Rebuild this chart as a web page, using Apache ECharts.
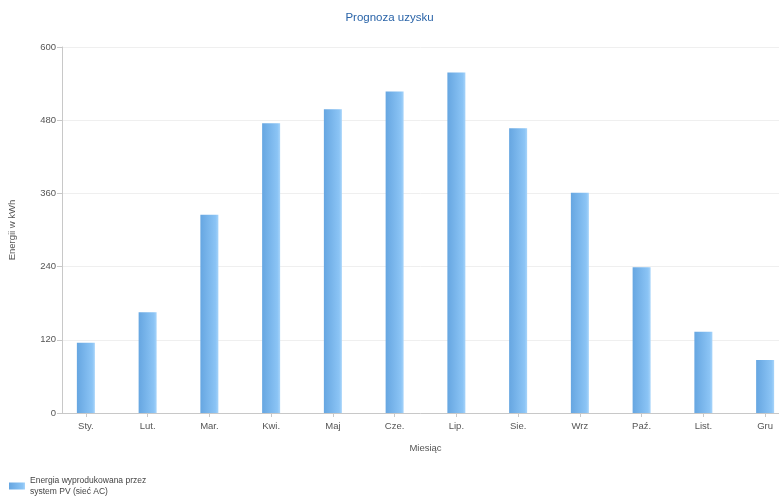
<!DOCTYPE html>
<html>
<head>
<meta charset="utf-8">
<style>
  html, body { margin: 0; padding: 0; background: #fff; }
  #chart { width: 779px; height: 499px; }
</style>
<script src="https://cdn.jsdelivr.net/npm/echarts@6/dist/echarts.min.js"></script>
</head>
<body>
<div id="chart"></div>
<script>
// Monthly energy yield forecast of the PV system
const months = ['Sty.', 'Lut.', 'Mar.', 'Kwi.', 'Maj', 'Cze.', 'Lip.', 'Sie.', 'Wrz', 'Paź.', 'List.', 'Gru'];
const energyKWh = [115, 165, 325, 475, 498, 527, 558, 467, 361, 239, 133, 87];
const yTicks = [0, 120, 240, 360, 480, 600];

const seriesName = 'Energia wyprodukowana przez\nsystem PV (sieć AC)';
const textFont = 'Liberation Sans';
const labelColor = '#555';
const axisColor = '#c8c8c8';

const chart = echarts.init(document.getElementById('chart'));

const yMin = yTicks[0];
const yMax = yTicks[yTicks.length - 1];
const yStep = yTicks[1] - yTicks[0];

chart.setOption({
  backgroundColor: '#fff',
  animation: false,
  title: {
    text: 'Prognoza uzysku',
    left: 'center',
    top: 7,
    textStyle: { color: '#2a64a8', fontSize: 11.5, fontWeight: 'normal', fontFamily: textFont }
  },
  legend: {
    left: 4,
    top: 470,
    itemWidth: 16,
    itemHeight: 7,
    itemGap: 5,
    textStyle: { color: '#444', fontSize: 8.5, fontFamily: textFont, lineHeight: 11 },
    data: [{ name: seriesName, icon: 'rect' }]
  },
  grid: [
    // bars (the last category runs past the right edge of the canvas)
    { left: 55, width: 741, top: 47, bottom: 86, outerBoundsMode: 'none' },
    // visible axes and split lines
    { left: 62, right: 0, top: 47, bottom: 86, outerBoundsMode: 'none' }
  ],
  xAxis: [
    {
      type: 'category',
      gridIndex: 0,
      data: months,
      axisLine: { show: false },
      axisTick: { show: true, alignWithLabel: true, length: 4, lineStyle: { color: axisColor } },
      axisLabel: { color: labelColor, fontSize: 9.5, fontFamily: textFont, margin: 8 },
      name: 'Miesiąc',
      nameLocation: 'middle',
      nameGap: 30,
      nameTextStyle: { color: labelColor, fontSize: 9.5, fontFamily: textFont }
    },
    {
      type: 'category',
      gridIndex: 1,
      data: [''],
      axisLine: { show: true, lineStyle: { color: axisColor } },
      axisTick: { show: false },
      axisLabel: { show: false }
    }
  ],
  yAxis: [
    {
      type: 'value',
      gridIndex: 0,
      min: yMin, max: yMax, interval: yStep,
      show: false
    },
    {
      type: 'value',
      gridIndex: 1,
      min: yMin, max: yMax, interval: yStep,
      axisLine: { show: true, lineStyle: { color: axisColor } },
      axisTick: { show: true, length: 5, lineStyle: { color: axisColor } },
      axisLabel: { color: labelColor, fontSize: 9.5, fontFamily: textFont, margin: 6 },
      splitLine: { show: true, lineStyle: { color: '#efefef' } },
      name: 'Energii w kWh',
      nameLocation: 'middle',
      nameRotate: 90,
      nameGap: 45,
      nameTextStyle: { color: labelColor, fontSize: 9.5, fontFamily: textFont }
    }
  ],
  series: [
    {
      name: seriesName,
      type: 'bar',
      xAxisIndex: 0,
      yAxisIndex: 0,
      data: energyKWh,
      barWidth: 18,
      itemStyle: {
        color: new echarts.graphic.LinearGradient(0, 0, 1, 0, [
          { offset: 0, color: '#66a6e1' },
          { offset: 0.85, color: '#8bc4f5' },
          { offset: 1, color: '#a7d4fa' }
        ])
      }
    }
  ]
});
</script>
</body>
</html>
